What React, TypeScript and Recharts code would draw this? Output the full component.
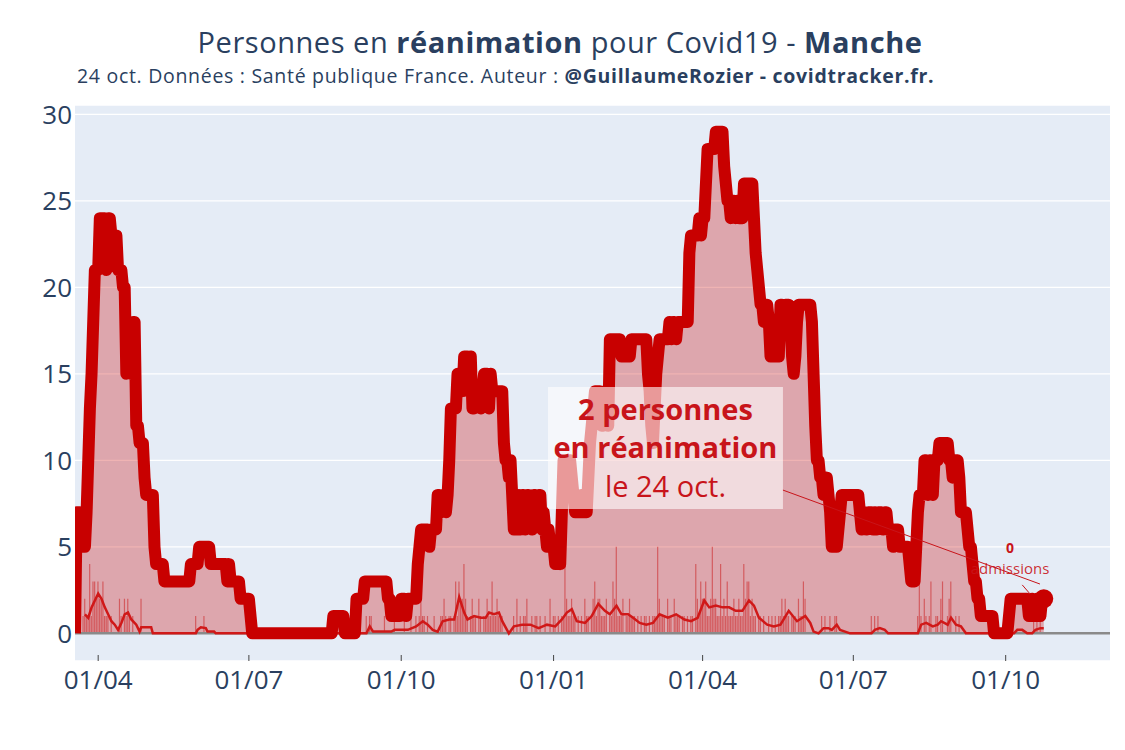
import React from "react";
import {
  ComposedChart,
  Area,
  Line,
  Bar,
  XAxis,
  YAxis,
  CartesianGrid,
  ReferenceLine,
  ReferenceArea,
  ReferenceDot,
} from "recharts";

// ---------------- DATA ----------------
// Day index 0 = 18 March 2020, last index = 24 October 2021.
// ICU patients per day, run-length encoded: [value, number of days]
const icuRuns: [number, number][] = [
  [0, 1], [7, 3], [5, 3], [7, 1], [10, 1], [13, 1], [15, 1], [18, 1], [21, 3], [24, 4],
  [21, 1], [24, 2], [23, 4], [21, 3], [20, 2], [15, 1], [18, 2], [15, 1], [18, 2], [12, 2],
  [11, 3], [9, 1], [8, 5], [5, 1], [4, 5], [3, 16], [4, 5], [5, 7], [4, 10], [3, 1],
  [4, 1], [3, 6], [2, 6], [1, 1], [0, 49], [1, 7], [0, 7], [2, 5], [3, 14], [2, 2],
  [1, 6], [2, 3], [1, 1], [2, 6], [4, 1], [5, 1], [6, 5], [5, 1], [6, 4], [8, 2],
  [7, 1], [8, 2], [7, 1], [8, 1], [10, 1], [13, 4], [15, 3], [14, 1], [16, 3], [15, 1],
  [16, 1], [13, 2], [14, 3], [13, 1], [14, 1], [15, 3], [13, 1], [15, 1], [14, 7], [11, 1],
  [10, 2], [9, 1], [10, 1], [8, 1], [6, 1], [8, 1], [6, 1], [8, 1], [6, 1], [8, 2],
  [6, 1], [8, 2], [7, 1], [6, 1], [8, 2], [7, 1], [8, 2], [6, 1], [7, 1], [6, 1],
  [5, 1], [6, 1], [5, 3], [4, 2], [5, 1], [4, 1], [7, 1], [10, 3], [9, 1], [10, 1],
  [9, 1], [8, 1], [7, 4], [8, 1], [7, 3], [9, 1], [11, 1], [12, 1], [13, 1], [14, 4],
  [12, 2], [14, 2], [12, 1], [17, 7], [16, 6], [17, 10], [15, 1], [14, 1], [12, 1], [11, 1],
  [13, 1], [15, 1], [16, 1], [17, 6], [18, 1], [17, 1], [18, 2], [17, 1], [18, 7], [22, 1],
  [23, 5], [24, 1], [23, 1], [24, 2], [26, 1], [28, 5], [29, 5], [27, 1], [26, 1], [25, 2],
  [24, 1], [25, 2], [24, 1], [25, 1], [24, 3], [26, 6], [24, 1], [22, 1], [21, 1], [20, 1],
  [19, 2], [18, 1], [19, 2], [18, 1], [16, 1], [17, 1], [16, 2], [17, 1], [16, 1], [19, 2],
  [18, 1], [19, 3], [18, 1], [16, 1], [15, 1], [16, 1], [18, 1], [19, 8], [18, 1], [15, 1],
  [12, 1], [10, 2], [9, 2], [8, 2], [9, 1], [8, 1], [7, 1], [5, 4], [6, 1], [7, 1],
  [8, 11], [7, 1], [6, 1], [7, 2], [6, 1], [7, 3], [6, 1], [7, 1], [6, 1], [7, 3],
  [6, 1], [7, 2], [6, 3], [5, 1], [6, 3], [5, 6], [4, 1], [3, 3], [5, 1], [7, 1],
  [8, 3], [10, 2], [8, 1], [10, 2], [8, 1], [10, 3], [11, 6], [10, 2], [9, 1], [10, 3],
  [9, 1], [7, 4], [6, 1], [5, 2], [4, 1], [3, 2], [2, 2], [1, 8], [0, 9], [1, 1],
  [2, 11], [1, 2], [2, 1], [1, 2], [2, 1], [1, 2], [2, 2],
];

// New ICU admissions per day (thin bars), rows of 10 days
const admissionsDailyRows: number[][] = [
  [0, 0, 0, 0, 0, 1, 2, 1, 1, 4], [1, 3, 3, 2, 3, 2, 2, 3, 1, 1], [1, 0, 1, 0, 0, 0, 0, 2, 1, 0],
  [2, 1, 2, 1, 0, 1, 0, 0, 0, 0], [2, 0, 0, 0, 0, 0, 0, 0, 0, 0], [0, 0, 0, 0, 0, 0, 0, 0, 0, 0],
  [0, 0, 0, 0, 0, 0, 0, 0, 0, 0], [0, 0, 0, 1, 0, 0, 0, 0, 1, 0], [0, 0, 0, 0, 0, 0, 0, 0, 0, 0],
  [0, 0, 0, 0, 0, 0, 0, 0, 0, 0], [0, 0, 0, 0, 0, 0, 0, 0, 0, 0], [0, 0, 0, 0, 0, 0, 0, 0, 0, 0],
  [0, 0, 0, 0, 0, 0, 0, 0, 0, 0], [0, 0, 0, 0, 0, 0, 0, 0, 0, 0], [0, 0, 0, 0, 0, 0, 0, 0, 0, 0],
  [0, 0, 0, 0, 0, 0, 0, 0, 0, 0], [0, 0, 0, 0, 0, 0, 0, 0, 0, 0], [0, 0, 0, 0, 0, 0, 1, 0, 1, 1],
  [0, 0, 0, 0, 0, 0, 0, 1, 0, 0], [0, 0, 0, 1, 0, 0, 0, 0, 0, 1], [0, 0, 0, 1, 0, 0, 1, 0, 1, 2],
  [1, 1, 0, 1, 0, 0, 0, 1, 0, 0], [0, 1, 1, 2, 1, 0, 1, 1, 0, 1], [3, 1, 3, 2, 2, 4, 2, 1, 0, 1],
  [2, 1, 1, 0, 2, 1, 0, 1, 1, 2], [1, 1, 3, 1, 1, 2, 1, 1, 1, 0], [0, 0, 0, 0, 0, 1, 0, 2, 0, 1],
  [0, 1, 1, 2, 0, 0, 1, 0, 1, 1], [0, 1, 0, 0, 1, 0, 0, 2, 0, 1], [1, 0, 1, 0, 1, 1, 4, 2, 1, 1],
  [2, 1, 1, 0, 1, 0, 1, 0, 2, 1], [1, 0, 1, 2, 3, 1, 2, 2, 1, 1], [1, 2, 0, 1, 1, 3, 2, 5, 1, 1],
  [1, 2, 0, 1, 1, 2, 1, 1, 1, 0], [1, 0, 1, 0, 1, 1, 0, 1, 0, 1], [1, 1, 5, 2, 1, 1, 1, 0, 2, 1],
  [1, 0, 2, 1, 1, 1, 0, 1, 1, 0], [1, 0, 1, 1, 0, 4, 2, 1, 3, 2], [2, 3, 1, 1, 2, 5, 2, 2, 1, 1],
  [4, 1, 2, 1, 3, 1, 1, 1, 2, 1], [1, 2, 1, 1, 4, 2, 3, 3, 1, 2], [1, 1, 0, 1, 1, 0, 1, 0, 0, 1],
  [0, 1, 0, 1, 0, 1, 1, 2, 1, 2], [1, 1, 0, 1, 1, 1, 0, 2, 1, 1], [3, 2, 0, 0, 0, 0, 0, 0, 0, 0],
  [0, 1, 0, 1, 0, 0, 1, 0, 0, 1], [1, 0, 0, 0, 0, 0, 0, 0, 0, 0], [0, 0, 0, 0, 0, 0, 0, 0, 0, 0],
  [0, 1, 0, 1, 0, 1, 0, 0, 0, 0], [0, 0, 0, 0, 0, 0, 0, 0, 0, 0], [0, 0, 0, 0, 0, 0, 0, 0, 0, 1],
  [3, 1, 0, 2, 1, 0, 1, 3, 0, 0], [1, 1, 0, 2, 3, 0, 0, 1, 2, 3], [0, 0, 1, 0, 1, 0, 0, 0, 0, 0],
  [0, 0, 0, 0, 0, 0, 0, 0, 0, 0], [0, 0, 0, 0, 0, 0, 0, 0, 0, 0], [0, 0, 0, 0, 0, 0, 1, 0, 0, 0],
  [0, 0, 0, 0, 0, 0, 0, 0, 0, 1], [0, 1, 0, 1, 0, 0],
];

// Rolling average of admissions (thin line), [day, value]
const admissionsAvgPoints: [number, number][] = [
  [6, 1.1], [8, 0.9], [10, 1.5], [12, 1.9], [14, 2.3], [16, 2.0], [18, 1.5], [20, 1.1], [22, 0.7],
  [24, 0.5], [26, 0.2], [28, 0.6], [30, 1.1], [32, 1.2], [34, 0.8], [37, 0.5], [39, 0.1], [40, 0.35],
  [46, 0.35], [47, 0], [73, 0], [74, 0.2], [76, 0.35], [79, 0.3], [80, 0.1], [84, 0.1], [85, 0],
  [176, 0], [178, 0.4], [180, 0.1], [191, 0.1], [193, 0.2], [201, 0.2], [206, 0.4], [210, 0.7],
  [213, 0.5], [216, 0.2], [219, 0.1], [222, 0.7], [226, 0.8], [229, 0.8], [232, 2.1], [235, 1.2],
  [237, 0.8], [241, 1.0], [245, 0.9], [248, 0.9], [250, 1.2], [253, 1.1], [256, 1.2], [258, 0.7],
  [262, 0], [265, 0.4], [270, 0.5], [275, 0.5], [280, 0.3], [285, 0.5], [290, 0.4], [294, 0.8],
  [297, 1.2], [300, 1.4], [303, 0.7], [308, 0.6], [312, 1.0], [316, 1.7], [320, 1.3], [323, 1.1],
  [327, 1.6], [330, 1.1], [334, 1.1], [337, 0.9], [341, 0.6], [345, 0.5], [349, 0.6], [353, 1.1],
  [358, 0.9], [363, 1.1], [368, 0.8], [372, 0.7], [376, 0.9], [380, 1.9], [383, 1.5], [387, 1.6],
  [391, 1.5], [395, 1.5], [399, 1.3], [403, 1.3], [407, 1.9], [410, 1.6], [413, 0.9], [418, 0.5],
  [422, 0.4], [426, 0.5], [431, 1.3], [436, 0.7], [441, 1.0], [444, 0.6], [446, 0.1], [449, 0],
  [452, 0.3], [455, 0.3], [457, 0.2], [460, 0.5], [462, 0.2], [465, 0.1], [468, 0], [481, 0],
  [483, 0.2], [486, 0.3], [489, 0.2], [491, 0], [509, 0], [511, 0.5], [514, 0.6], [516, 0.5],
  [518, 0.4], [521, 0.5], [523, 0.7], [527, 0.5], [529, 0.9], [532, 0.5], [535, 0.4], [538, 0],
  [567, 0], [569, 0.2], [572, 0.2], [575, 0], [578, 0], [580, 0.2], [583, 0.3], [585, 0.3],
];

const xTickDays = [14, 105, 197, 289, 379, 470, 562];
const xTickLabels = ["01/04", "01/07", "01/10", "01/01", "01/04", "01/07", "01/10"];
const yTicks = [0, 5, 10, 15, 20, 25, 30];
const lastDateLabel = "24 oct.";
const lastAdmissions = 0;

// Annotation anchors in data units
const boxX = [285.6, 427.5];
const boxY = [7.18, 14.24];
const arrowSeg = [
  { x: 427.5, y: 8.28 },
  { x: 582.7, y: 2.85 },
];
const admArrowSeg = [
  { x: 572.0, y: 2.8 },
  { x: 576.8, y: 2.27 },
];
const admLabelAt = { x: 564.6, y: 4.64 };

// ---------------- derived tables ----------------
const icuDaily: number[] = icuRuns.flatMap(([v, n]) => Array(n).fill(v));
const admissionsDaily: number[] = admissionsDailyRows.flat();
const chartData = icuDaily.map((v, i) => ({ day: i, icu: v, adm: admissionsDaily[i] ?? 0 }));
const avgData = admissionsAvgPoints.map(([day, v]) => ({ day, avg: v }));
const lastIndex = chartData.length - 1;
const lastIcu = icuDaily[lastIndex];

// ---------------- style ----------------
const FONT = "'Open Sans', 'Noto Sans', sans-serif";
const INK = "#2a3f5f";
const RED = "#c80000";
const ANN_RED = "#c8141a";
const W = 1125;
const H = 750;
const PLOT_TOP = 105;
const PLOT_BOTTOM = 661;
const PLOT_LEFT = 75;
const PLOT_RIGHT = 1110;

const XTick = (props: any) => {
  const { x, payload } = props;
  const idx = xTickDays.indexOf(payload.value);
  return (
    <g>
      <line x1={x} x2={x} y1={PLOT_BOTTOM - 6} y2={PLOT_BOTTOM} stroke="#444" strokeWidth={1} />
      <text x={x} y={PLOT_BOTTOM + 28} textAnchor="middle" fontSize={26} fill={INK} fontFamily={FONT}>
        {idx >= 0 ? xTickLabels[idx] : ""}
      </text>
    </g>
  );
};

const YTick = (props: any) => {
  const { y, payload } = props;
  return (
    <text x={PLOT_LEFT - 3} y={y} dy={9.5} textAnchor="end" fontSize={26} fill={INK} fontFamily={FONT}>
      {payload.value}
    </text>
  );
};

const renderEndDot = (p: any) => {
  if (p.index === lastIndex) {
    return <circle key="end-dot" cx={p.cx} cy={p.cy} r={9.5} fill={RED} />;
  }
  return <g key={`d-${p.index}`} />;
};

const renderBoxLabel = (props: any) => {
  const vb = props.viewBox || {};
  const cx = vb.x + vb.width / 2;
  const top = vb.y;
  return (
    <g fontFamily={FONT} fill={ANN_RED} textAnchor="middle">
      <text x={cx} y={top + 33} fontSize={29} fontWeight={700} fill={ANN_RED} textAnchor="middle">
        {`${lastIcu} personnes`}
      </text>
      <text x={cx} y={top + 71.5} fontSize={29} fontWeight={700} fill={ANN_RED} textAnchor="middle">
        en réanimation
      </text>
      <text x={cx} y={top + 110} fontSize={29} fontWeight={400} fill={ANN_RED} textAnchor="middle">
        {`le ${lastDateLabel}`}
      </text>
    </g>
  );
};

const renderAdmLabel = (props: any) => {
  const vb = props.viewBox || {};
  const cx = vb.x + (vb.width || 0) / 2;
  const cy = vb.y + (vb.height || 0) / 2;
  return (
    <g fontFamily={FONT}>
      <text x={cx} y={cy} textAnchor="middle" fontSize={14} fontWeight={700} fill={ANN_RED}>
        {lastAdmissions}
      </text>
      <text x={cx} y={cy + 21} textAnchor="middle" fontSize={15} fill={ANN_RED} fillOpacity={0.9}>
        admissions
      </text>
    </g>
  );
};

export default function App() {
  return (
    <div
      style={{
        position: "absolute",
        left: 0,
        top: 0,
        width: W,
        height: H,
        background: "#fff",
        fontFamily: FONT,
      }}
    >
      <ComposedChart
        width={W}
        height={H}
        data={chartData}
        margin={{ top: PLOT_TOP, right: W - PLOT_RIGHT, bottom: 0, left: 0 }}
      >
        <CartesianGrid vertical={false} stroke="#ffffff" strokeWidth={1.3} fill="#E5ECF6" />
        <XAxis
          dataKey="day"
          type="number"
          domain={[0, 625]}
          ticks={xTickDays}
          interval={0}
          allowDataOverflow
          axisLine={false}
          tickLine={false}
          height={H - PLOT_BOTTOM}
          tick={<XTick />}
        />
        <YAxis
          type="number"
          domain={[-1.6, 30.54]}
          ticks={yTicks}
          interval={0}
          allowDataOverflow
          axisLine={false}
          tickLine={false}
          width={PLOT_LEFT}
          tick={<YTick />}
        />
        <Area
          dataKey="icu"
          type="linear"
          stroke="none"
          fill="#c90404"
          fillOpacity={0.3}
          baseValue={0}
          dot={false}
          activeDot={false}
          isAnimationActive={false}
        />
        <Bar dataKey="adm" fill={RED} fillOpacity={0.45} barSize={1.2} isAnimationActive={false} />
        <ReferenceLine y={0} stroke="#8a8a8a" strokeWidth={2.5} />
        <Line
          data={avgData}
          dataKey="avg"
          type="linear"
          stroke="#d01818"
          strokeWidth={2.5}
          dot={false}
          activeDot={false}
          isAnimationActive={false}
        />
        <ReferenceDot
          x={admLabelAt.x}
          y={admLabelAt.y}
          r={0}
          fill="none"
          stroke="none"
          ifOverflow="visible"
          label={renderAdmLabel}
        />
        <Line
          dataKey="icu"
          type="linear"
          stroke={RED}
          strokeWidth={12}
          strokeLinejoin="round"
          dot={renderEndDot}
          activeDot={false}
          isAnimationActive={false}
        />
        <ReferenceArea
          x1={boxX[0]}
          x2={boxX[1]}
          y1={boxY[0]}
          y2={boxY[1]}
          fill="#ffffff"
          fillOpacity={0.6}
          stroke="none"
          ifOverflow="visible"
          label={renderBoxLabel}
          zIndex={1000}
        />
        <ReferenceLine segment={arrowSeg} stroke="#c8141a" strokeWidth={1} ifOverflow="visible" zIndex={1000} />
        <ReferenceLine segment={admArrowSeg} stroke="#c8141a" strokeWidth={1} ifOverflow="visible" zIndex={1000} />
      </ComposedChart>
      <svg
        width={W}
        height={100}
        style={{ position: "absolute", left: 0, top: 0, pointerEvents: "none" }}
      >
        <text
          x={560}
          y={53}
          textAnchor="middle"
          fontSize={29}
          letterSpacing={0.55}
          fill={INK}
          fontFamily={FONT}
        >
          <tspan>Personnes en </tspan>
          <tspan fontWeight={700}>réanimation</tspan>
          <tspan> pour Covid19 - </tspan>
          <tspan fontWeight={700}>Manche</tspan>
        </text>
        <text
          x={77}
          y={83}
          textAnchor="start"
          fontSize={19.5}
          letterSpacing={0.7}
          fill={INK}
          fontFamily={FONT}
        >
          <tspan>24 oct. Données : Santé publique France. Auteur : </tspan>
          <tspan fontWeight={700}>@GuillaumeRozier - covidtracker.fr.</tspan>
        </text>
      </svg>
    </div>
  );
}
